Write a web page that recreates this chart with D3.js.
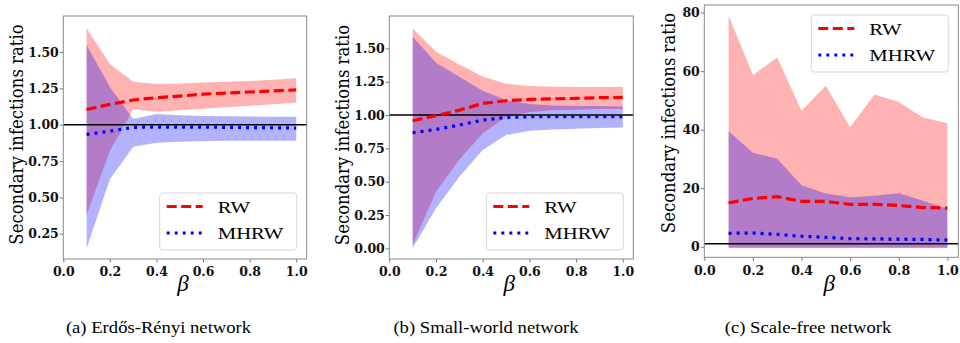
<!DOCTYPE html>
<html>
<head>
<meta charset="utf-8">
<script src="https://cdn.jsdelivr.net/npm/d3@7"></script>
<style>
  body { margin: 0; background: #fff; }
  svg { display: block; }
</style>
</head>
<body>
<svg id="chart" width="960" height="343"></svg>
<script>
// beta values shared by all three panels
const betas = [0.1, 0.2, 0.3, 0.4, 0.5, 0.6, 0.7, 0.8, 0.9, 1.0];
const xTicks = [0, 0.2, 0.4, 0.6, 0.8, 1.0];

// (a) Erdos-Renyi
const erRwMean = [1.105, 1.14, 1.17, 1.186, 1.197, 1.21, 1.218, 1.225, 1.232, 1.24];
const erRwHi   = [1.663, 1.417, 1.296, 1.28, 1.284, 1.29, 1.296, 1.30, 1.31, 1.32];
const erRwLo   = [0.379, 0.821, 1.106, 1.089, 1.10, 1.11, 1.12, 1.13, 1.14, 1.151];
const erMhMean = [0.933, 0.956, 0.982, 0.984, 0.984, 0.983, 0.982, 0.98, 0.979, 0.977];
const erMhHi   = [1.549, 1.26, 1.039, 1.074, 1.065, 1.06, 1.058, 1.056, 1.055, 1.055];
const erMhLo   = [0.149, 0.624, 0.849, 0.876, 0.883, 0.888, 0.89, 0.89, 0.89, 0.89];
const erTicks  = [0.25, 0.5, 0.75, 1.0, 1.25, 1.5];

// (b) Small-world
const swRwMean = [0.957, 0.995, 1.037, 1.087, 1.107, 1.117, 1.122, 1.125, 1.13, 1.132];
const swRwHi   = [1.65, 1.475, 1.38, 1.29, 1.235, 1.217, 1.212, 1.21, 1.21, 1.21];
const swRwLo   = [0.025, 0.425, 0.667, 0.862, 0.987, 1.02, 1.035, 1.04, 1.045, 1.045];
const swMhMean = [0.867, 0.892, 0.925, 0.962, 0.982, 0.987, 0.987, 0.987, 0.987, 0.987];
const swMhHi   = [1.587, 1.392, 1.287, 1.182, 1.112, 1.082, 1.072, 1.067, 1.067, 1.065];
const swMhLo   = [0.0, 0.30, 0.537, 0.737, 0.85, 0.882, 0.892, 0.897, 0.902, 0.907];
const swTicks  = [0, 0.25, 0.5, 0.75, 1.0, 1.25, 1.5];

// (c) Scale-free
const sfRwMean = [15.0, 16.5, 17.1, 15.5, 15.5, 14.5, 14.5, 14.1, 13.4, 13.2];
const sfRwHi   = [78.9, 58.7, 64.7, 46.5, 55.0, 40.8, 52.0, 49.5, 44.2, 42.2];
const sfRwLo   = [-0.3, -0.3, -0.3, -0.3, -0.3, -0.3, -0.3, -0.3, -0.3, -0.3];
const sfMhMean = [4.6, 4.7, 4.2, 3.6, 3.2, 2.8, 2.7, 2.6, 2.5, 2.3];
const sfMhHi   = [39.5, 32.1, 30.1, 21.0, 18.2, 16.9, 17.4, 18.3, 15.7, 13.0];
const sfMhLo   = [-0.3, -0.3, -0.3, -0.3, -0.3, -0.3, -0.3, -0.3, -0.3, -0.3];
const sfTicks  = [0, 20, 40, 60, 80];

const seriesNames = ['RW', 'MHRW'];
const captions = ['(a) Erdős-Rényi network', '(b) Small-world network', '(c) Scale-free network'];
const yLabel = 'Secondary infections ratio';

const panels = [
  {left: 63.3, right: 306.7, top: 16, bottom: 259, ydom: [0.076, 1.748], yticks: erTicks, fmt: '.2f',
   rw: [erRwMean, erRwLo, erRwHi], mh: [erMhMean, erMhLo, erMhHi], legend: 'lower', labelX: 22.5, labelY: 134.5, capX: 158.5},
  {left: 389.3, right: 633.3, top: 16, bottom: 259, ydom: [-0.08, 1.743], yticks: swTicks, fmt: '.2f',
   rw: [swRwMean, swRwLo, swRwHi], mh: [swMhMean, swMhLo, swMhHi], legend: 'lower', labelX: 348.5, labelY: 135, capX: 486},
  {left: 704.3, right: 958.3, top: 5, bottom: 257.3, ydom: [-3.6, 82.6], yticks: sfTicks, fmt: 'd',
   rw: [sfRwMean, sfRwLo, sfRwHi], mh: [sfMhMean, sfMhLo, sfMhHi], legend: 'upper', labelX: 675, labelY: 123, capX: 808}
];

const svg = d3.select('#chart');
const tickFont = "'DejaVu Serif', 'Liberation Serif', 'Times New Roman', serif";
const serif = "'Liberation Serif', 'Times New Roman', 'DejaVu Serif', serif";

panels.forEach(function (p, idx) {
  var xs = d3.scaleLinear().domain([0, 1.045]).range([p.left, p.right]);
  var ys = d3.scaleLinear().domain(p.ydom).range([p.bottom, p.top]);
  var g = svg.append('g');

  var band = d3.area()
    .x(function (d, i) { return xs(betas[i]); })
    .y0(function (d) { return ys(d[0]); })
    .y1(function (d) { return ys(d[1]); });
  var line = d3.line()
    .x(function (d, i) { return xs(betas[i]); })
    .y(function (d) { return ys(d); });

  var rwBand = p.rw[1].map(function (v, i) { return [v, p.rw[2][i]]; });
  var mhBand = p.mh[1].map(function (v, i) { return [v, p.mh[2][i]]; });

  g.append('path').attr('d', band(rwBand)).attr('fill', 'rgba(255,0,0,0.3)');
  g.append('path').attr('d', band(mhBand)).attr('fill', 'rgba(0,0,255,0.3)');

  g.append('line')
    .attr('x1', p.left).attr('x2', p.right)
    .attr('y1', ys(1)).attr('y2', ys(1))
    .attr('stroke', '#000').attr('stroke-width', 1.5);

  g.append('path').attr('d', line(p.rw[0]))
    .attr('fill', 'none').attr('stroke', '#ff0000').attr('stroke-width', 3.2)
    .attr('stroke-dasharray', '10,4.5');
  g.append('path').attr('d', line(p.mh[0]))
    .attr('fill', 'none').attr('stroke', '#0000ff').attr('stroke-width', 3.2)
    .attr('stroke-dasharray', '3,5');

  // axes
  var ax = g.append('g').attr('transform', 'translate(' + p.left + ',0)')
    .call(d3.axisLeft(ys).tickValues(p.yticks).tickFormat(d3.format(p.fmt)).tickSize(3.5).tickPadding(1));
  var bx = g.append('g').attr('transform', 'translate(0,' + p.bottom + ')')
    .call(d3.axisBottom(xs).tickValues(xTicks).tickFormat(d3.format('.1f')).tickSize(3.5).tickPadding(5));
  [ax, bx].forEach(function (a) {
    a.attr('font-family', null);
    a.select('.domain').remove();
    a.selectAll('line').attr('stroke', '#777');
    a.selectAll('text')
      .style('font-family', tickFont).style('font-weight', 'bold')
      .style('font-size', '12.5px').attr('fill', '#111');
  });

  g.append('rect')
    .attr('x', p.left).attr('y', p.top)
    .attr('width', p.right - p.left).attr('height', p.bottom - p.top)
    .attr('fill', 'none').attr('stroke', '#888').attr('stroke-width', 1);

  g.append('text')
    .attr('transform', 'translate(' + p.labelX + ',' + p.labelY + ') rotate(-90) scale(1,1.1)')
    .attr('text-anchor', 'middle')
    .style('font-family', tickFont).style('font-size', '16.5px')
    .text(yLabel);

  g.append('text')
    .attr('x', (p.left + p.right) / 2 - 2).attr('y', 291)
    .attr('text-anchor', 'middle')
    .style('font-family', serif).style('font-style', 'italic').style('font-size', '23px')
    .text('β');

  // legend
  var lw = 137, lh = 57;
  var lx = p.right - 10 - lw;
  var ly = p.legend === 'lower' ? p.bottom - 9 - lh : p.top + 10;
  var leg = g.append('g').attr('transform', 'translate(' + lx + ',' + ly + ')');
  leg.append('rect').attr('width', lw).attr('height', lh).attr('rx', 3)
    .attr('fill', 'rgba(255,255,255,0.8)').attr('stroke', '#d8d8d8');
  seriesNames.forEach(function (name, i) {
    var yy = 13.5 + i * 26.5;
    leg.append('line').attr('x1', 7).attr('x2', 43).attr('y1', yy).attr('y2', yy)
      .attr('stroke', i === 0 ? '#ff0000' : '#0000ff').attr('stroke-width', 3.2)
      .attr('stroke-dasharray', i === 0 ? '10,4.5' : '3,5');
    leg.append('text')
      .attr('transform', 'translate(58,' + (yy + 6) + ') scale(1.22,1)')
      .style('font-family', serif).style('font-size', '17px')
      .text(name);
  });

  svg.append('text')
    .attr('transform', 'translate(' + p.capX + ',333) scale(1.18,1)')
    .attr('text-anchor', 'middle')
    .style('font-family', serif).style('font-size', '15.8px')
    .text(captions[idx]);
});
</script>
</body>
</html>
